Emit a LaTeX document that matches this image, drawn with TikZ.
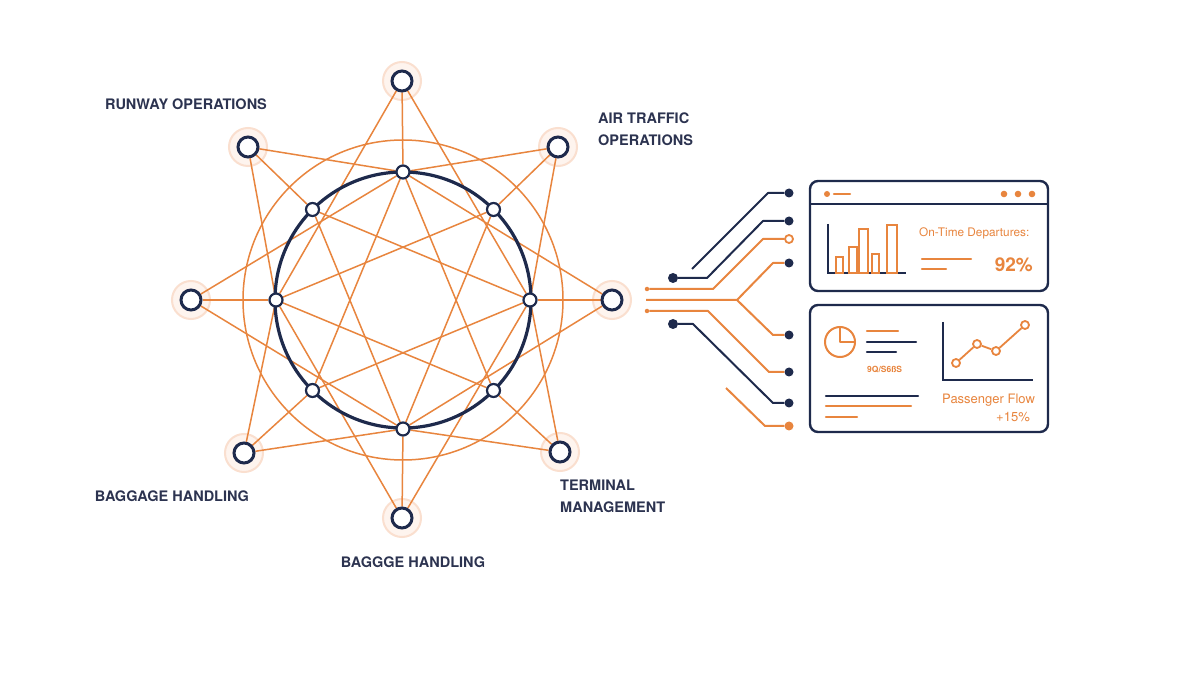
\documentclass[tikz,border=0pt]{standalone}
\usepackage{fontspec}
\setmainfont{TeX Gyre Heros}
\usetikzlibrary{calc}
\definecolor{navy}{HTML}{1E2A4C}
\definecolor{org}{HTML}{E8853E}
\definecolor{halofill}{HTML}{FEF4EE}
\definecolor{halodraw}{HTML}{FADFCF}
\definecolor{lblc}{HTML}{2C3350}
\pgfdeclarelayer{back}
\pgfdeclarelayer{halo}
\pgfdeclarelayer{lines}
\pgfsetlayers{back,halo,lines,main}
\begin{document}
\begin{tikzpicture}[x=1pt,y=-1pt,
  onode/.style={circle, draw=navy, line width=3pt, fill=white, minimum size=20pt, inner sep=0pt},
  inode/.style={circle, draw=navy, line width=2.2pt, fill=white, minimum size=13pt, inner sep=0pt},
  oline/.style={draw=org, line width=1.5pt},
  halostyle/.style={fill=halofill, draw=halodraw, line width=2pt},
  lbl/.style={text=lblc, font=\bfseries\fontsize{14.5}{22}\selectfont, inner sep=0pt, align=left},
  panelbox/.style={draw=navy, line width=2.4pt, rounded corners=8pt},
  nline/.style={draw=navy, line width=2pt, line join=round},
  cline/.style={draw=org, line width=2pt, line join=round},
  ndot/.style={circle, fill=navy, minimum size=9pt, inner sep=0pt},
  sdot/.style={circle, fill=org, minimum size=4.5pt, inner sep=0pt},
  bar/.style={draw=org, line width=1.6pt},
  axis/.style={draw=navy, line width=2pt},
  txtline/.style={line width=2.2pt, line cap=round},
  ptdot/.style={circle, draw=org, fill=white, line width=1.8pt, minimum size=8pt, inner sep=0pt},
  dtext/.style={text=org, inner sep=0pt}
]
\begin{pgfonlayer}{back}
\fill[white] (0,0) rectangle (1200,700);
\end{pgfonlayer}
\useasboundingbox (0,0) rectangle (1200,700);

% navy ring
\draw[navy, line width=3.2pt] (403,300) circle[radius=128pt];

% inner nodes
\node[inode] (iT)  at (403,172) {};
\node[inode] (iTR) at (493.5,209.5) {};
\node[inode] (iR)  at (530,300) {};
\node[inode] (iBR) at (493.5,390.5) {};
\node[inode] (iB)  at (403,429) {};
\node[inode] (iBL) at (312.5,390.5) {};
\node[inode] (iL)  at (276,300) {};
\node[inode] (iTL) at (312.5,209.5) {};

% outer nodes
\node[onode] (oT)  at (402,81) {};
\node[onode] (oTR) at (558,147) {};
\node[onode] (oR)  at (612,300) {};
\node[onode] (oBR) at (560,452) {};
\node[onode] (oB)  at (402,518) {};
\node[onode] (oBL) at (244,453) {};
\node[onode] (oL)  at (191,300) {};
\node[onode] (oTL) at (248,147) {};

\begin{pgfonlayer}{halo}
\foreach \n in {oT,oTR,oR,oBR,oB,oBL,oL,oTL}
  \path[halostyle] (\n) circle[radius=19pt];
\end{pgfonlayer}

\begin{pgfonlayer}{lines}
\draw[oline] (403,300) circle[radius=160pt];
% radial
\foreach \a in {T,TR,R,BR,B,BL,L,TL}
  \draw[oline] (o\a) -- (i\a);
% diagonal outer to neighbouring inner
\draw[oline] (oTL) -- (iT);  \draw[oline] (oTL) -- (iL);
\draw[oline] (oTR) -- (iT);  \draw[oline] (oTR) -- (iR);
\draw[oline] (oBR) -- (iR);  \draw[oline] (oBR) -- (iB);
\draw[oline] (oBL) -- (iB);  \draw[oline] (oBL) -- (iL);
% cardinal outer to inner at 90 degrees
\draw[oline] (oT) -- (iL);  \draw[oline] (oT) -- (iR);
\draw[oline] (oR) -- (iT);  \draw[oline] (oR) -- (iB);
\draw[oline] (oB) -- (iL);  \draw[oline] (oB) -- (iR);
\draw[oline] (oL) -- (iT);  \draw[oline] (oL) -- (iB);
% inner star
\draw[oline] (iR) -- (iTL);
\draw[oline] (iTR) -- (iL);
\draw[oline] (iT) -- (iBL);
\draw[oline] (iTL) -- (iB);
\draw[oline] (iL) -- (iBR);
\draw[oline] (iBL) -- (iR);
\draw[oline] (iB) -- (iTR);
\draw[oline] (iBR) -- (iT);
\end{pgfonlayer}

% labels
\node[lbl] (tRun) at (186,104) {RUNWAY OPERATIONS};
\node[lbl, anchor=west] (tAir) at (598,129) {AIR TRAFFIC\\OPERATIONS};
\node[lbl] (tBag) at (172,496) {BAGGAGE HANDLING};
\node[lbl, anchor=west] (tTer) at (560,496) {TERMINAL\\MANAGEMENT};
\node[lbl] (tBag2) at (413,562) {BAGGGE HANDLING};

% connector dots
\node[ndot] (d1) at (789,193) {};
\node[ndot] (d2) at (789,221) {};
\node[circle, draw=org, fill=white, line width=1.8pt, minimum size=8pt, inner sep=0pt] (d3) at (789,239) {};
\node[ndot] (d4) at (789,263) {};
\node[ndot] (d5) at (789,335) {};
\node[ndot] (d6) at (789,372) {};
\node[ndot] (d7) at (789,403) {};
\node[circle, fill=org, minimum size=9pt, inner sep=0pt] (d8) at (789,426) {};
\node[ndot, minimum size=10pt] (L1) at (673,278) {};
\node[ndot, minimum size=10pt] (L2) at (673,324) {};
\node[sdot] (s1) at (647,289) {};
\node[sdot] (s2) at (647,311) {};
\coordinate (fa) at (692,269);
\coordinate (t0) at (646,300);
\coordinate (br) at (737,300);
\coordinate (fg) at (726,388);

\draw[nline] (fa) -- (768,193) -- (d1);
\draw[nline] (L1) -- (707,278) -- (763,221) -- (d2);
\draw[cline] (s1) -- (713,289) -- (763,239) -- (d3);
\draw[cline] (t0) -- (br) -- (773,263) -- (d4);
\draw[cline] (br) -- (773,335) -- (d5);
\draw[cline] (s2) -- (708,311) -- (769,372) -- (d6);
\draw[nline] (L2) -- (693,324) -- (773,403) -- (d7);
\draw[cline] (fg) -- (765,426) -- (d8);

% panel 1
\draw[panelbox] (810,181) rectangle (1048,291);
\draw[navy, line width=2pt] (810,204) -- (1048,204);
\fill[org] (827,194) circle[radius=3pt];
\draw[org, txtline] (834,194) -- (850,194);
\foreach \x in {1004,1018,1032} \fill[org] (\x,194) circle[radius=3.3pt];
\draw[axis] (828,224) -- (828,273) -- (906,273);
\draw[bar] (836,273) rectangle (843,257);
\draw[bar] (849,273) rectangle (857,247);
\draw[bar] (859,273) rectangle (868,229);
\draw[bar] (872,273) rectangle (879,254);
\draw[bar] (887,273) rectangle (897,225);
\node[dtext, anchor=west, font=\fontsize{11.8}{13}\selectfont] (tOn) at (919,233) {On-Time Departures:};
\draw[org, txtline] (922,259) -- (971,259);
\draw[org, txtline] (922,269) -- (946,269);
\node[dtext, anchor=east, font=\bfseries\fontsize{19}{22}\selectfont] (t92) at (1033,265) {92\%};

% panel 2
\draw[panelbox] (810,305) rectangle (1048,432);
\draw[org, line width=2pt] (840,342) circle[radius=15pt];
\draw[org, line width=2pt, line join=round] (840,327) -- (840,342) -- (855,342);
\draw[org, txtline] (867,331) -- (898,331);
\draw[navy, txtline] (867,342) -- (916,342);
\draw[navy, txtline] (867,352) -- (896,352);
\node[dtext, anchor=west, font=\bfseries\fontsize{8.5}{10}\selectfont] (tCode) at (867,370) {9Q/S6ßS};
\draw[axis] (943,322) -- (943,380) -- (1033,380);
\node[ptdot] (p1) at (956,363) {};
\node[ptdot] (p2) at (977,344) {};
\node[ptdot] (p3) at (996,351) {};
\node[ptdot] (p4) at (1025,325) {};
\draw[org, line width=1.8pt] (p1) -- (p2) -- (p3) -- (p4);
\draw[navy, txtline] (826,396) -- (918,396);
\draw[org, txtline] (826,406) -- (911,406);
\draw[org, txtline] (826,417) -- (857,417);
\node[dtext, anchor=west, font=\fontsize{13}{15}\selectfont] (tPass) at (942,400) {Passenger Flow};
\node[dtext, anchor=east, font=\fontsize{13}{15}\selectfont] (tPct) at (1030,417) {+15\%};
\end{tikzpicture}
\end{document}
